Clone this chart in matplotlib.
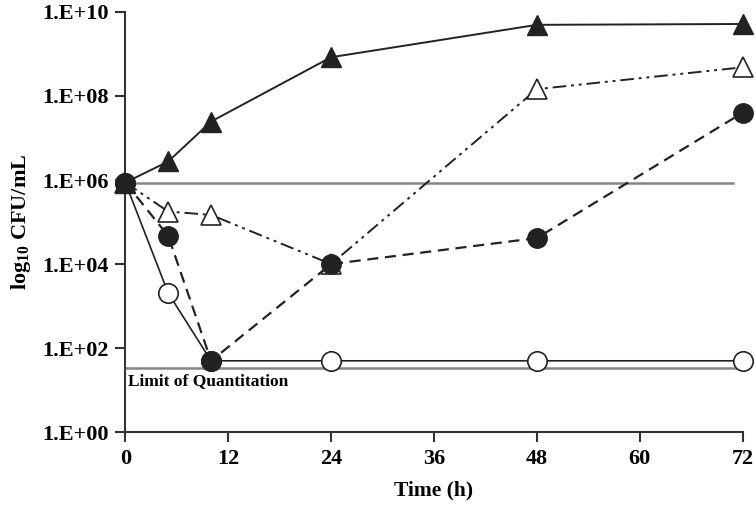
import matplotlib
matplotlib.use("Agg")
import matplotlib.pyplot as plt
import numpy as np
from matplotlib.ticker import FixedLocator, FuncFormatter

plt.rcParams['font.family'] = 'Liberation Serif'
plt.rcParams['font.weight'] = 'bold'
plt.rcParams['mathtext.fontset'] = 'custom'
plt.rcParams['mathtext.rm'] = 'Liberation Serif:bold'
plt.rcParams['mathtext.bf'] = 'Liberation Serif:bold'
plt.rcParams['mathtext.it'] = 'Liberation Serif:bold'

# time points (h) and log10 CFU/mL
time = [0, 5, 10, 24, 48, 72]
filled_tri = [5.94, 6.44, 7.39, 8.92, 9.69, 9.71]
open_tri = [5.94, 5.25, 5.17, 4.00, 8.16, 8.68]
filled_circ = [5.94, 4.67, 1.70, 4.00, 4.62, 7.60]
open_circ = [5.94, 3.31, 1.70, 1.70, 1.70, 1.70]

inoculum = 5.94
loq = 1.52
x_ticks = [0, 12, 24, 36, 48, 60, 72]
y_ticks = [0, 2, 4, 6, 8, 10]

fig = plt.figure(figsize=(7.56, 5.13), dpi=100)
ax = fig.add_axes([0.1658, 0.1573, 0.9824 - 0.1658, 0.977 - 0.1573])

def cfu(v):
    return 10 ** np.array(v)

# reference lines
ax.plot([0, 70.9], cfu([inoculum, inoculum]), color='#858585', lw=1.8, zorder=1)
ax.plot([0, 72], cfu([loq, loq]), color='#858585', lw=1.8, zorder=1)
ax.text(0.35, 10 ** 1.22, 'Limit of Quantitation', fontsize=12.5, fontweight='bold',
        ha='left', va='center')

ms = 14
ax.plot(time, cfu(open_circ), color='#222222', lw=1.2, marker='o', ms=ms,
        mfc='white', mec='#222222', mew=1.2, zorder=3, clip_on=False)
ax.plot(time, cfu(open_tri), color='#222222', lw=1.4, ls=(0, (7, 2.5, 1.5, 2.5, 1.5, 2.5)),
        marker='^', ms=ms, mfc='white', mec='#222222', mew=1.2, zorder=4, clip_on=False)
ax.plot(time, cfu(filled_tri), color='#222222', lw=1.4, marker='^', ms=ms,
        mfc='#222222', mec='#222222', zorder=5, clip_on=False)
ax.plot(time, cfu(filled_circ), color='#222222', lw=1.6, ls=(0, (5, 3)), marker='o', ms=ms,
        mfc='#222222', mec='#222222', zorder=6, clip_on=False)

ax.set_yscale('log')
ax.set_ylim(1, 1e10)
ax.set_xlim(0, 72)
ax.xaxis.set_major_locator(FixedLocator(x_ticks))
ax.yaxis.set_major_locator(FixedLocator([10.0 ** k for k in y_ticks]))
ax.yaxis.set_minor_locator(FixedLocator([]))
ax.yaxis.set_major_formatter(FuncFormatter(lambda v, p: '1.E+%02d' % round(np.log10(v))))

for s in ['top', 'right']:
    ax.spines[s].set_visible(False)
for s in ['left', 'bottom']:
    ax.spines[s].set_linewidth(1.5)
    ax.spines[s].set_color('#333333')
ax.tick_params(direction='out', length=7, width=1.5, color='#333333', pad=5, labelsize=16)
for lab in ax.get_xticklabels() + ax.get_yticklabels():
    lab.set_fontweight('bold')

ax.set_xlabel('Time (h)', fontsize=15.5, fontweight='bold')
ax.set_ylabel(r'$\mathbf{log_{10}}$ CFU/mL', fontsize=16, fontweight='bold')
ax.yaxis.set_label_coords(-0.15, 0.5)
ax.xaxis.set_label_coords(0.5, -0.115)

fig.savefig('out.png', dpi=100)
